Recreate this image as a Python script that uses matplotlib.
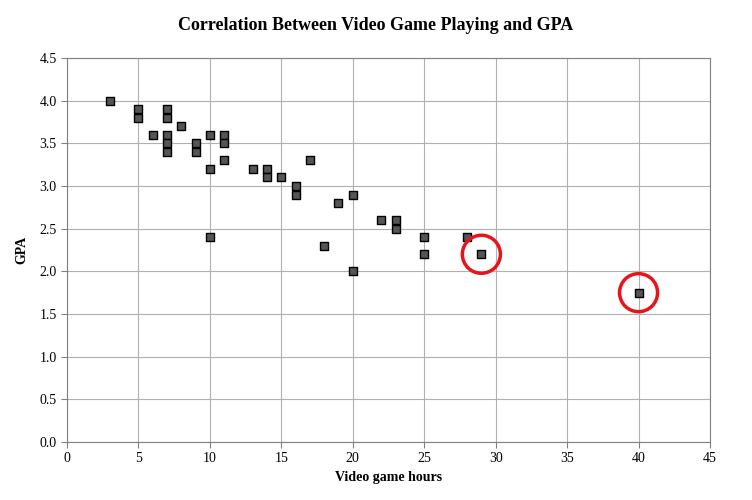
import matplotlib
matplotlib.use("Agg")
import matplotlib.pyplot as plt

plt.rcParams['font.family'] = ['Liberation Serif', 'DejaVu Serif']

hours = [3, 5, 5, 6, 7, 7, 7, 7, 7, 8, 9, 9, 10, 10, 10, 11, 11, 11, 13, 14, 14,
         15, 16, 16, 17, 18, 19, 20, 20, 22, 23, 23, 25, 25, 28, 29, 40]
gpa = [4.0, 3.9, 3.8, 3.6, 3.9, 3.8, 3.6, 3.5, 3.4, 3.7, 3.5, 3.4, 3.6, 3.2, 2.4,
       3.6, 3.5, 3.3, 3.2, 3.2, 3.1, 3.1, 3.0, 2.9, 3.3, 2.3, 2.8, 2.9, 2.0,
       2.6, 2.6, 2.5, 2.4, 2.2, 2.4, 2.2, 1.75]
circled_x = [29, 40]
circled_y = [2.2, 1.75]

fig = plt.figure(figsize=(7.52, 5.0), dpi=100)
ax = fig.add_axes([67/752, 58/500, 643/752, 384/500])

ax.scatter(hours, gpa, marker='s', s=38, color='#555555', edgecolors='black',
           linewidths=1.0, zorder=3)
ax.scatter(circled_x, circled_y, marker='o', s=750, facecolors='none',
           edgecolors='#e8141c', linewidths=2.5, zorder=4)

ax.set_xlim(0, 45)
ax.set_ylim(0, 4.5)
ax.set_xticks(range(0, 46, 5))
ax.set_yticks([i * 0.5 for i in range(10)])
ax.set_yticklabels([f"{i * 0.5:.1f}" for i in range(10)])
ax.grid(True, color='#b0b0b0', linewidth=0.8)
ax.set_axisbelow(True)
for s in ax.spines.values():
    s.set_color('#808080')
ax.tick_params(labelsize=10, color='#808080', length=4)

ax.set_xlabel('Video game hours', fontsize=10, fontweight='bold', labelpad=4)
ax.set_ylabel('GPA', fontsize=10, fontweight='bold', labelpad=8)
fig.suptitle('Correlation Between Video Game Playing and GPA', fontsize=13,
             fontweight='bold', y=0.965)

fig.savefig('out.png', dpi=100)
